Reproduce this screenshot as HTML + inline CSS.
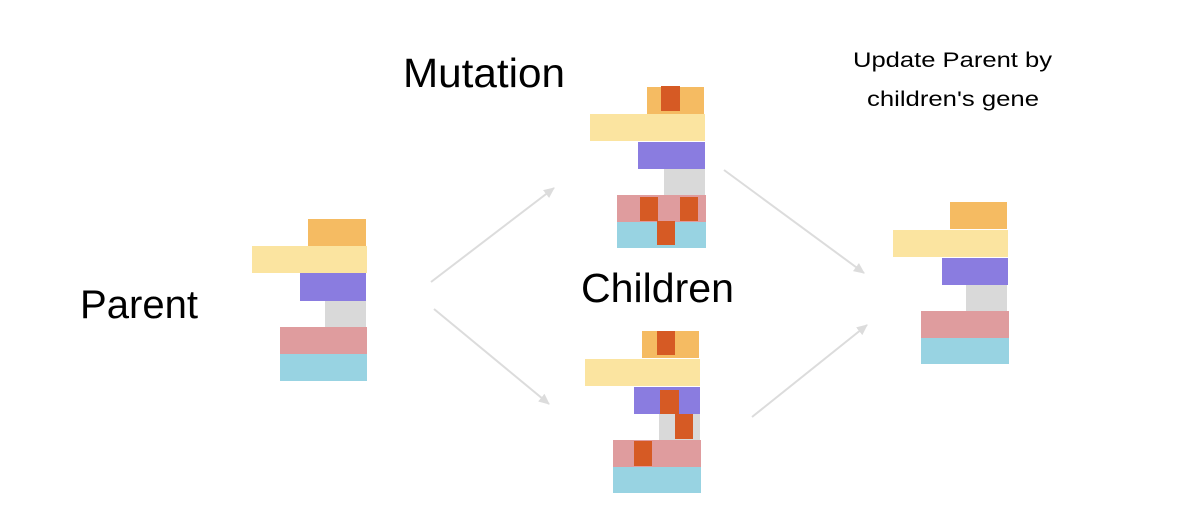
<!DOCTYPE html>
<html><head><meta charset="utf-8"><style>
html,body{margin:0;padding:0;background:#fff;}
svg{display:block}
text{font-family:"Liberation Sans",Arial,sans-serif;fill:#000}
</style></head><body>
<svg width="1180" height="524" viewBox="0 0 1180 524" xmlns="http://www.w3.org/2000/svg">
<defs><marker id="a" markerWidth="12" markerHeight="12" refX="10" refY="6" orient="auto" markerUnits="userSpaceOnUse"><path d="M0,1 L11,6 L0,11 z" fill="#dcdcdc"/></marker></defs>
<g stroke="#dcdcdc" stroke-width="2" fill="none" marker-end="url(#a)">
<line x1="431" y1="282" x2="554" y2="188"/>
<line x1="434" y1="309" x2="549" y2="404"/>
<line x1="724" y1="170" x2="864" y2="273"/>
<line x1="752" y1="417" x2="867" y2="325"/>
</g>
<text x="403" y="87" font-size="41" textLength="162" lengthAdjust="spacingAndGlyphs">Mutation</text>
<text x="581" y="302" font-size="41" textLength="153" lengthAdjust="spacingAndGlyphs">Children</text>
<text x="80" y="318" font-size="40" textLength="118" lengthAdjust="spacingAndGlyphs">Parent</text>
<text x="853" y="67" font-size="21" textLength="199" lengthAdjust="spacingAndGlyphs">Update Parent by</text>
<text x="867" y="106" font-size="21" textLength="172" lengthAdjust="spacingAndGlyphs">children's gene</text>
<!-- Parent -->
<rect x="308" y="219" width="58" height="27" fill="#f5bb62"/>
<rect x="252" y="246" width="115" height="27" fill="#fbe4a0"/>
<rect x="300" y="273" width="66" height="28" fill="#8a7ce0"/>
<rect x="325" y="301" width="41" height="26" fill="#d9d9d9"/>
<rect x="280" y="327" width="87" height="27" fill="#df9c9e"/>
<rect x="280" y="354" width="87" height="27" fill="#98d3e2"/>
<!-- Mutation -->
<rect x="647" y="87" width="57" height="27" fill="#f5bb62"/>
<rect x="661" y="86" width="19" height="25" fill="#d65a24"/>
<rect x="590" y="114" width="115" height="27" fill="#fbe4a0"/>
<rect x="638" y="142" width="67" height="27" fill="#8a7ce0"/>
<rect x="664" y="169" width="41" height="26" fill="#d9d9d9"/>
<rect x="617" y="195" width="89" height="27" fill="#df9c9e"/>
<rect x="617" y="222" width="89" height="26" fill="#98d3e2"/>
<rect x="640" y="197" width="18" height="24" fill="#d65a24"/>
<rect x="680" y="197" width="18" height="24" fill="#d65a24"/>
<rect x="657" y="221" width="18" height="24" fill="#d65a24"/>
<!-- Children -->
<rect x="642" y="331" width="57" height="27" fill="#f5bb62"/>
<rect x="657" y="331" width="18" height="24" fill="#d65a24"/>
<rect x="585" y="359" width="115" height="27" fill="#fbe4a0"/>
<rect x="634" y="387" width="66" height="27" fill="#8a7ce0"/>
<rect x="660" y="390" width="19" height="24" fill="#d65a24"/>
<rect x="659" y="414" width="41" height="26" fill="#d9d9d9"/>
<rect x="675" y="414" width="18" height="25" fill="#d65a24"/>
<rect x="613" y="440" width="88" height="27" fill="#df9c9e"/>
<rect x="634" y="441" width="18" height="25" fill="#d65a24"/>
<rect x="613" y="467" width="88" height="26" fill="#98d3e2"/>
<!-- Result -->
<rect x="950" y="202" width="57" height="27" fill="#f5bb62"/>
<rect x="893" y="230" width="115" height="27" fill="#fbe4a0"/>
<rect x="942" y="258" width="66" height="27" fill="#8a7ce0"/>
<rect x="966" y="285" width="41" height="26" fill="#d9d9d9"/>
<rect x="921" y="311" width="88" height="27" fill="#df9c9e"/>
<rect x="921" y="338" width="88" height="26" fill="#98d3e2"/>
</svg>
</body></html>
